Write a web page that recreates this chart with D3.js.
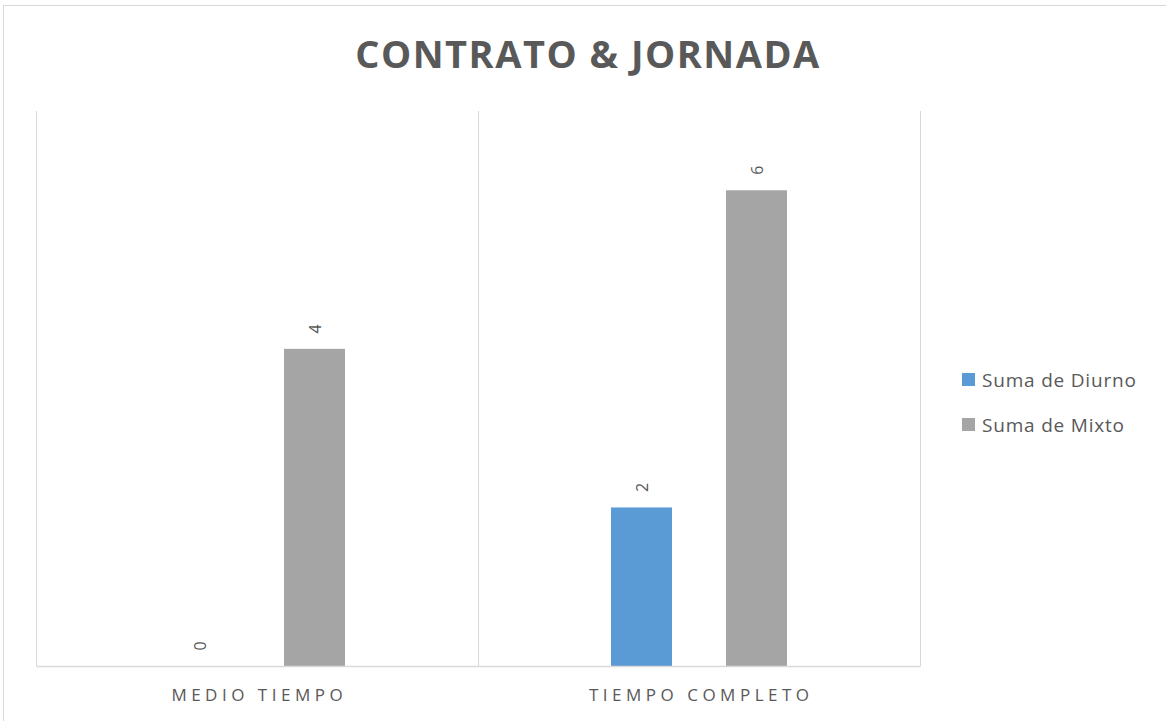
<!DOCTYPE html>
<html><head><meta charset="utf-8">
<script src="https://cdn.jsdelivr.net/npm/d3@7"></script>
<style>body{margin:0;background:#fff}svg{display:block}</style>
</head><body>
<script>
const title = "CONTRATO & JORNADA";
const categories = ["MEDIO TIEMPO", "TIEMPO COMPLETO"];
const seriesNames = ["Suma de Diurno", "Suma de Mixto"];
const diurno = [0, 2];
const mixto = [4, 6];
const colors = ["#5B9BD5", "#A5A5A5"];

const W = 1166, H = 721;
const svg = d3.select("body").append("svg").attr("width", W).attr("height", H);
svg.append("rect").attr("x", 3.5).attr("y", 5.5).attr("width", W + 10).attr("height", H + 10)
  .attr("fill", "#fff").attr("stroke", "#D9D9D9").attr("stroke-width", 1);

const m = {left: 36, right: 920, top: 111, bottom: 666};
const x = d3.scaleBand().domain(categories).range([m.left, m.right]);
const y = d3.scaleLinear().domain([0, 7]).range([m.bottom, m.top]);
const series = [diurno, mixto];
const xs2 = d3.scaleLinear().domain([0, 1]).range([-57.5, 57.5]);
const barW = 61;

// vertical separators
const seps = [m.left, ...categories.map(c => x(c) + x.bandwidth())];
svg.selectAll("line.sep").data(seps).enter().append("line")
  .attr("x1", d => d + 0.5).attr("x2", d => d + 0.5).attr("y1", m.top).attr("y2", m.bottom)
  .attr("stroke", "#D9D9D9").attr("stroke-width", 1);

// bars
series.forEach((vals, si) => {
  const g = svg.append("g");
  g.selectAll("rect").data(vals).enter().append("rect")
    .attr("x", (d, i) => x(categories[i]) + x.bandwidth() / 2 + xs2(si) - barW / 2)
    .attr("width", barW)
    .attr("y", d => y(d))
    .attr("height", d => y(0) - y(d))
    .attr("fill", colors[si]);
  g.selectAll("text").data(vals).enter().append("text")
    .attr("transform", (d, i) => {
      const cx = x(categories[i]) + x.bandwidth() / 2 + xs2(si);
      const cy = y(d) - 20;
      return `translate(${cx},${cy}) rotate(-90)`;
    })
    .attr("text-anchor", "middle").attr("dominant-baseline", "central")
    .attr("font-family", "Open Sans, sans-serif").attr("font-size", 16)
    .attr("fill", "#595959").text(d => d);
});

// x axis line
const xAxis = d3.axisBottom(x).tickSize(0).tickPadding(23);
const ga = svg.append("g").attr("transform", `translate(0,${m.bottom})`).call(xAxis);
ga.select(".domain").attr("stroke", "#D9D9D9").attr("stroke-width", 1.5);
ga.selectAll("text").attr("font-family", "Open Sans, sans-serif").attr("font-size", 17)
  .attr("dx", 2.25)
  .attr("fill", "#595959").attr("letter-spacing", "4.5px");

// title
svg.append("text").attr("x", 588).attr("y", 68).attr("text-anchor", "middle")
  .attr("font-family", "Open Sans, sans-serif").attr("font-weight", "bold")
  .attr("font-size", 38).attr("letter-spacing", "1.5px").attr("fill", "#595959").text(title);

// legend
const lg = svg.append("g");
seriesNames.forEach((n, i) => {
  const ly = 380 + i * 45;
  lg.append("rect").attr("x", 962).attr("y", ly - 7).attr("width", 13).attr("height", 13).attr("fill", colors[i]);
  lg.append("text").attr("x", 982).attr("y", ly).attr("dominant-baseline", "central")
    .attr("font-family", "Open Sans, sans-serif").attr("font-size", 19).attr("letter-spacing", "0.8px")
    .attr("fill", "#595959").text(n);
});
</script>
</body></html>
